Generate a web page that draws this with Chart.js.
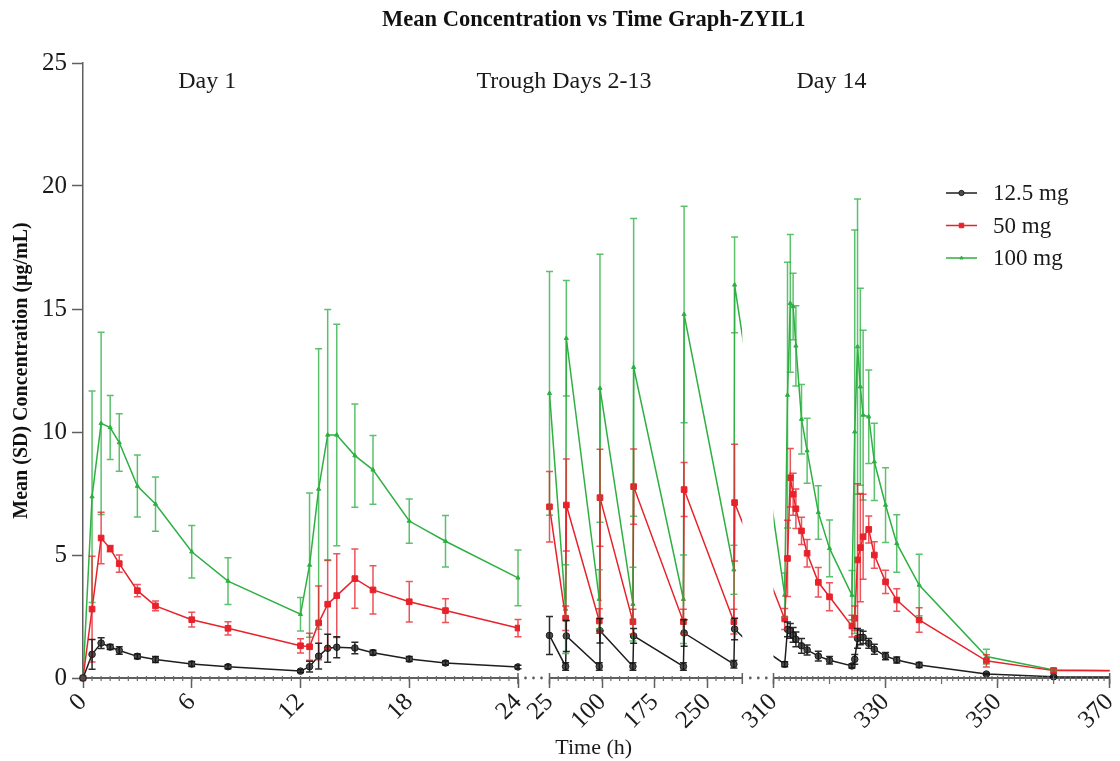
<!DOCTYPE html>
<html>
<head>
<meta charset="utf-8">
<script src="https://cdn.jsdelivr.net/npm/chart.js@4.4.1/dist/chart.umd.min.js"></script>
<style>
html, body { margin: 0; padding: 0; background: #ffffff; overflow: hidden; width: 1120px; height: 761px; }
canvas { position: absolute; left: 0; top: 0; }
</style>
</head>
<body>
<canvas id="frame" width="1120" height="761"></canvas>
<canvas id="segA" width="1120" height="761"></canvas>
<canvas id="segB" width="1120" height="761"></canvas>
<canvas id="segC" width="1120" height="761"></canvas>
<script>
// ---------------- DATA ----------------
const timeH = [
  0, 0.5, 1, 1.5, 2, 3, 4, 6, 8, 12, 12.5, 13, 13.5, 14, 15, 16, 18, 20, 24,
  25, 48, 49, 96, 97, 144, 145, 216, 217, 288, 289, 306,
  312, 312.5, 313, 313.5, 314, 315, 316, 318, 320, 324, 324.5, 325, 325.5, 326, 327, 328, 330, 332, 336, 348, 360, 384
];
const mean12_5 = [
  0, 0.96, 1.42, 1.26, 1.12, 0.88, 0.75, 0.57, 0.46, 0.28, 0.46, 0.89, 1.21, 1.25, 1.22, 1.03, 0.77, 0.61, 0.45,
  1.73, 0.47, 1.71, 0.47, 1.92, 0.47, 1.71, 0.47, 1.83, 0.56, 1.99, 1.52,
  0.56, 1.98, 1.92, 1.75, 1.57, 1.31, 1.14, 0.89, 0.72, 0.49, 0.76, 1.61, 1.65, 1.65, 1.41, 1.17, 0.89, 0.73, 0.53, 0.16, 0.05, 0.03
];
const sd12_5 = [
  0, 0.6, 0.22, 0.1, 0.15, 0.1, 0.12, 0.1, 0.08, 0.06, 0.22, 0.52, 0.57, 0.43, 0.23, 0.1, 0.1, 0.08, 0.07,
  0.77, 0.15, 0.63, 0.15, 0.5, 0.15, 0.3, 0.15, 0.54, 0.15, 0.44, 0,
  0.1, 0.3, 0.3, 0.3, 0.3, 0.3, 0.2, 0.2, 0.15, 0.08, 0.2, 0.4, 0.3, 0.25, 0.2, 0.2, 0.15, 0.12, 0.1, 0.03, 0.02, 0
];
const mean50 = [
  0, 2.8, 5.69, 5.26, 4.65, 3.55, 2.93, 2.37, 2.02, 1.31, 1.27, 2.24, 3.0, 3.35, 4.04, 3.58, 3.1, 2.74, 2.03,
  6.96, 2.43, 7.03, 2.32, 7.33, 2.29, 7.78, 2.29, 7.66, 2.29, 7.13, 5.9,
  2.4, 4.86, 8.14, 7.47, 6.88, 5.98, 5.07, 3.89, 3.3, 2.11, 2.43, 4.8, 5.3, 5.74, 6.04, 5.0, 3.91, 3.17, 2.36, 0.7, 0.3, 0.28
];
const sd50 = [
  0, 2.15, 1.05, 0.13, 0.35, 0.25, 0.2, 0.3, 0.27, 0.29, 0.55, 1.5, 1.8, 1.7, 1.2, 0.98, 0.82, 0.48, 0.35,
  1.43, 0.5, 1.87, 0.5, 1.97, 0.5, 1.53, 0.5, 1.1, 0.5, 2.37, 0,
  0.43, 1.55, 1.19, 0.85, 0.8, 0.55, 0.56, 0.6, 0.57, 0.44, 0.5, 3.1, 2.2, 1.73, 0.55, 0.54, 0.47, 0.46, 0.5, 0.25, 0.1, 0
];
const mean100 = [
  0, 7.37, 10.35, 10.18, 9.57, 7.8, 7.07, 5.13, 3.94, 2.59, 4.59, 7.68, 9.88, 9.88, 9.04, 8.46, 6.38, 5.56, 4.07,
  11.57, 2.8, 13.81, 3.2, 11.78, 3.0, 12.63, 3.2, 14.78, 4.4, 15.98, 12.8,
  3.37, 11.5, 15.23, 15.1, 13.5, 10.52, 9.24, 6.73, 5.27, 3.37, 10.01, 13.47, 11.84, 10.69, 10.62, 8.79, 7.03, 5.47, 3.78, 0.87, 0.33, 0.27
];
const sd100 = [
  0, 4.3, 3.7, 1.3, 1.17, 1.26, 1.1, 1.07, 0.95, 0.68, 2.93, 5.7, 5.1, 4.5, 2.1, 1.4, 0.9, 1.05, 1.13,
  4.95, 1.8, 2.35, 1.2, 5.45, 1.5, 6.05, 1.8, 4.4, 1.0, 1.95, 0,
  0.9, 5.4, 2.8, 1.35, 1.63, 1.41, 1.32, 1.09, 1.15, 1.0, 8.2, 6.0, 4.0, 3.45, 1.9, 1.57, 1.52, 1.17, 1.25, 0.3, 0.05, 0
];
const seriesLabels = ['12.5 mg', '50 mg', '100 mg'];
const seg1Ticks = [0, 6, 12, 18, 24];
const seg2Ticks = [25, 100, 175, 250];
const seg3Ticks = [310, 330, 350, 370];
const yTicks = [0, 5, 10, 15, 20, 25];
const segmentLabels = ['Day 1', 'Trough Days 2-13', 'Day 14'];
const chartTitle = 'Mean Concentration vs Time Graph-ZYIL1';
const xTitle = 'Time (h)';
const yTitle = 'Mean (SD) Concentration (\u03BCg/mL)';

// ---------------- STYLES ----------------
const seriesStyle = [
  { line: '#1e1e1e', bar: 'rgba(20,20,20,0.9)', fill: '#4d4d4d', point: 'circle', r: 3.3 },
  { line: '#e8222b', bar: 'rgba(232,34,43,0.78)', fill: '#e8222b', point: 'rect', r: 4.0 },
  { line: '#2eb042', bar: 'rgba(46,176,66,0.78)', fill: '#2eb042', point: 'triangle', r: 2.4 }
];
const seriesMeans = [mean12_5, mean50, mean100];
const seriesSDs = [sd12_5, sd50, sd100];

Chart.defaults.font.family = '"Liberation Serif", "Times New Roman", "DejaVu Serif", serif';
Chart.defaults.color = '#1a1a1a';

// ---------------- PLUGINS ----------------
const errorBarPlugin = {
  id: 'errorBars',
  afterDatasetsDraw(chart) {
    const xs = chart.scales.x, ys = chart.scales.y, ctx = chart.ctx;
    chart.getSortedVisibleDatasetMetas().slice().reverse().forEach(meta => {
      const ds = chart.data.datasets[meta.index];
      if (!ds.errors) return;
      ctx.save();
      ctx.strokeStyle = ds.barColor;
      ctx.lineWidth = 1.5;
      ds.data.forEach((p, i) => {
        const sd = ds.errors[i];
        if (!sd || p.x < xs.min || p.x > xs.max) return;
        const x = xs.getPixelForValue(p.x);
        const yT = ys.getPixelForValue(p.y + sd);
        const yB = ys.getPixelForValue(Math.max(0, p.y - sd));
        ctx.beginPath();
        ctx.moveTo(x, yT); ctx.lineTo(x, yB);
        ctx.moveTo(x - 3.5, yT); ctx.lineTo(x + 3.5, yT);
        ctx.moveTo(x - 3.5, yB); ctx.lineTo(x + 3.5, yB);
        ctx.stroke();
      });
      ctx.restore();
    });
  }
};

const axisDecorPlugin = {
  id: 'axisDecor',
  afterDraw(chart, args, opts) {
    if (!opts || !opts.minorStep) return;
    const xs = chart.scales.x, ctx = chart.ctx, a = chart.chartArea;
    const y0 = a.bottom;
    ctx.save();
    ctx.strokeStyle = '#6a6a6a';
    ctx.lineWidth = 1.2;
    const n = Math.round((xs.max - xs.min) / opts.minorStep);
    ctx.beginPath();
    for (let k = 1; k < n; k++) {
      const x = xs.getPixelForValue(xs.min + k * opts.minorStep);
      ctx.moveTo(x, y0 - 2); ctx.lineTo(x, y0 + 3);
    }
    if (opts.mediumStep) {
      const m = Math.round((xs.max - xs.min) / opts.mediumStep);
      for (let k = 1; k < m; k++) {
        const x = xs.getPixelForValue(xs.min + k * opts.mediumStep);
        ctx.moveTo(x, y0); ctx.lineTo(x, y0 + 6);
      }
    }
    ctx.stroke();
    ctx.lineWidth = 1.5;
    ctx.strokeStyle = '#5f5f5f';
    ctx.beginPath();
    if (opts.edgeLeft) { ctx.moveTo(a.left, y0 - 5); ctx.lineTo(a.left, y0 + 6); }
    if (opts.edgeRight) { ctx.moveTo(a.right, y0 - 5); ctx.lineTo(a.right, y0 + 6); }
    ctx.stroke();
    ctx.fillStyle = '#5f5f5f';
    (opts.dots || []).forEach(side => {
      for (let k = 1; k <= 3; k++) {
        const x = side === 'left' ? a.left - 8 * k : a.right + 8 * k;
        ctx.beginPath(); ctx.arc(x, y0, 1.4, 0, Math.PI * 2); ctx.fill();
      }
    });
    ctx.restore();
  }
};

const textMarksPlugin = {
  id: 'textMarks',
  afterDraw(chart, args, opts) {
    if (!opts || !opts.items) return;
    const xs = chart.scales.x, ys = chart.scales.y, ctx = chart.ctx;
    ctx.save();
    ctx.font = '24px ' + Chart.defaults.font.family;
    ctx.fillStyle = '#1a1a1a';
    ctx.textAlign = 'center';
    ctx.textBaseline = 'middle';
    opts.items.forEach(it => ctx.fillText(it.text, xs.getPixelForValue(it.x), ys.getPixelForValue(it.y)));
    ctx.restore();
  }
};

const lineLegendPlugin = {
  id: 'lineLegend',
  afterDraw(chart, args, opts) {
    if (!opts || !opts.show) return;
    const ctx = chart.ctx;
    ctx.save();
    ctx.font = '23px ' + Chart.defaults.font.family;
    ctx.textAlign = 'left';
    ctx.textBaseline = 'middle';
    chart.data.datasets.forEach((ds, i) => {
      const st = seriesStyle[i];
      const y = opts.y + i * opts.rowGap;
      ctx.strokeStyle = st.line; ctx.lineWidth = 1.5;
      ctx.beginPath(); ctx.moveTo(opts.x, y); ctx.lineTo(opts.x + opts.lineLen, y); ctx.stroke();
      ctx.fillStyle = st.fill; ctx.strokeStyle = st.line; ctx.lineWidth = 1;
      Chart.helpers.drawPoint(ctx, { pointStyle: st.point, radius: st.r * 0.8, borderWidth: 1 }, opts.x + opts.lineLen / 2, y);
      ctx.fillStyle = '#1a1a1a';
      ctx.fillText(ds.label, opts.x + opts.lineLen + 16, y + 1);
    });
    ctx.restore();
  }
};

Chart.register(errorBarPlugin, axisDecorPlugin, textMarksPlugin, lineLegendPlugin);

// ---------------- BUILDERS ----------------
function makeDatasets(xmin, xmax, clip, hideBefore) {
  return seriesMeans.map((means, s) => {
    const st = seriesStyle[s];
    return {
      label: seriesLabels[s],
      data: timeH.map((t, i) => ({ x: t, y: means[i] })),
      errors: seriesSDs[s],
      barColor: st.bar,
      borderColor: st.line,
      borderWidth: 1.5,
      pointStyle: st.point,
      pointRadius: ctx => (ctx.raw && ctx.raw.x >= xmin && ctx.raw.x <= xmax) ? st.r : 0,
      pointBackgroundColor: st.fill,
      pointBorderColor: st.line,
      pointBorderWidth: 1,
      tension: 0,
      clip: clip,
      segment: {
        borderColor: ctx => (hideBefore !== undefined && ctx.p0.parsed.x < hideBefore) ? 'rgba(0,0,0,0)' : undefined
      }
    };
  });
}

function xScale(min, max, tickValues) {
  return {
    type: 'linear', min: min, max: max,
    afterBuildTicks: s => { s.ticks = tickValues.map(v => ({ value: v })); },
    afterFit: s => { s.height = 83; },
    ticks: { autoSkip: false, maxRotation: 45, minRotation: 45, padding: 10, color: '#1a1a1a',
             font: { size: 25, lineHeight: 0.02 } },
    grid: { display: true, drawOnChartArea: false, drawTicks: true, tickLength: 10, tickColor: '#5f5f5f', tickWidth: 1.5 },
    border: { display: true, color: '#5f5f5f', width: 2 }
  };
}

function yScale(show) {
  return {
    type: 'linear', min: 0, max: 25, display: show,
    afterBuildTicks: s => { s.ticks = yTicks.map(v => ({ value: v })); },
    afterFit: s => { if (show) s.width = 79; },
    title: { display: show, text: yTitle, color: '#111', font: { size: 20, weight: 'bold' }, padding: { top: 6, bottom: 0 } },
    ticks: { font: { size: 25 }, padding: 5, color: '#1a1a1a' },
    grid: { drawOnChartArea: false, tickLength: 11, tickColor: '#5f5f5f', tickWidth: 1.5 },
    border: { display: true, color: '#5f5f5f', width: 1.5 }
  };
}

function segOptions(pad, showY, xs, plugins) {
  return {
    responsive: false, animation: false, devicePixelRatio: 1,
    layout: { padding: pad },
    scales: { x: xs, y: yScale(showY) },
    plugins: Object.assign({ legend: { display: false }, tooltip: { enabled: false } }, plugins)
  };
}

// ---------------- FRAME : overall title and x-axis title over the whole broken axis ----------------
new Chart(document.getElementById('frame'), {
  type: 'line',
  data: { datasets: [] },
  options: {
    responsive: false, animation: false, devicePixelRatio: 1,
    layout: { padding: { left: 75, right: 7.5, top: 0, bottom: 0 } },
    scales: { x: { type: 'linear', display: false }, y: { type: 'linear', display: false } },
    plugins: {
      legend: { display: false }, tooltip: { enabled: false },
      title: { display: true, text: chartTitle, color: '#111', font: { size: 22.5, weight: 'bold' }, padding: { top: 6.5, bottom: 10 } },
      subtitle: { display: true, position: 'bottom', text: xTitle, color: '#1a1a1a', font: { size: 22, weight: 'normal' }, padding: 0 }
    }
  }
});

// ---------------- SEGMENT 1 : Day 1 (0-24 h) ----------------
new Chart(document.getElementById('segA'), {
  type: 'line',
  data: { datasets: makeDatasets(0, 24, { left: 6, right: 2, top: 6, bottom: 6 }) },
  options: segOptions({ left: 4, right: 602, top: 63, bottom: 0 }, true, xScale(0, 24, seg1Ticks), {
    axisDecor: { minorStep: 0.5, edgeRight: true },
    textMarks: { items: [{ text: segmentLabels[0], x: 6.85, y: 24.23 }] }
  })
});

// ---------------- SEGMENT 2 : Trough days 2-13 (25-300 h) ----------------
new Chart(document.getElementById('segB'), {
  type: 'line',
  data: { datasets: makeDatasets(25, 300, { left: 5, right: 0, top: 6, bottom: 6 }, 25) },
  options: segOptions({ left: 549.5, right: 377.7, top: 63, bottom: 0 }, false, xScale(25, 300, seg2Ticks), {
    axisDecor: { minorStep: 12.5, edgeLeft: true, edgeRight: true, dots: ['left', 'right'] },
    textMarks: { items: [{ text: segmentLabels[1], x: 45.7, y: 24.23 }] }
  })
});

// ---------------- SEGMENT 3 : Day 14 (310-370 h) ----------------
new Chart(document.getElementById('segC'), {
  type: 'line',
  data: { datasets: makeDatasets(310, 370, { left: 0, right: 0, top: 6, bottom: 6 }) },
  options: segOptions({ left: 773.5, right: 7.5, top: 63, bottom: 0 }, false, xScale(310, 370, seg3Ticks), {
    axisDecor: { minorStep: 1, mediumStep: 10, edgeLeft: true, edgeRight: true },
    textMarks: { items: [{ text: segmentLabels[2], x: 320.35, y: 24.23 }] },
    lineLegend: { show: true, x: 946, y: 193, rowGap: 32.5, lineLen: 31 }
  })
});
</script>
</body>
</html>
